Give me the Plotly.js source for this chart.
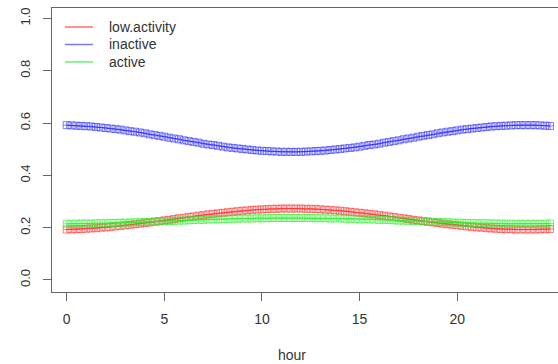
<!DOCTYPE html>
<html>
<head>
<meta charset="utf-8">
<script src="https://cdn.plot.ly/plotly-3.0.1.min.js"></script>
<style>html,body{margin:0;padding:0;background:#fff;overflow:hidden}#chart{width:558px;height:364px}</style>
</head>
<body>
<div id="chart"></div>
<script>
const hours = [0,0.25,0.5,0.75,1,1.25,1.5,1.75,2,2.25,2.5,2.75,3,3.25,3.5,3.75,4,4.25,4.5,4.75,5,5.25,5.5,5.75,6,6.25,6.5,6.75,7,7.25,7.5,7.75,8,8.25,8.5,8.75,9,9.25,9.5,9.75,10,10.25,10.5,10.75,11,11.25,11.5,11.75,12,12.25,12.5,12.75,13,13.25,13.5,13.75,14,14.25,14.5,14.75,15,15.25,15.5,15.75,16,16.25,16.5,16.75,17,17.25,17.5,17.75,18,18.25,18.5,18.75,19,19.25,19.5,19.75,20,20.25,20.5,20.75,21,21.25,21.5,21.75,22,22.25,22.5,22.75,23,23.25,23.5,23.75,24,24.25,24.5,24.75];
const lowActivity = [0.193,0.194,0.194,0.195,0.196,0.197,0.198,0.200,0.201,0.203,0.205,0.207,0.209,0.211,0.213,0.215,0.218,0.220,0.223,0.225,0.228,0.230,0.233,0.236,0.238,0.241,0.243,0.246,0.248,0.251,0.253,0.255,0.257,0.259,0.261,0.263,0.265,0.266,0.268,0.269,0.270,0.271,0.272,0.272,0.273,0.273,0.273,0.273,0.273,0.272,0.272,0.271,0.270,0.269,0.268,0.266,0.265,0.263,0.261,0.259,0.257,0.255,0.253,0.251,0.248,0.246,0.243,0.241,0.238,0.236,0.233,0.230,0.228,0.225,0.223,0.220,0.218,0.215,0.213,0.211,0.209,0.207,0.205,0.203,0.201,0.200,0.198,0.197,0.196,0.195,0.194,0.194,0.193,0.193,0.193,0.193,0.193,0.194,0.194,0.195];
const inactive = [0.592,0.591,0.590,0.589,0.588,0.587,0.585,0.583,0.581,0.579,0.577,0.575,0.572,0.569,0.567,0.564,0.561,0.557,0.554,0.551,0.548,0.544,0.541,0.538,0.534,0.531,0.528,0.525,0.521,0.518,0.516,0.513,0.510,0.507,0.505,0.503,0.501,0.499,0.497,0.495,0.494,0.493,0.492,0.491,0.490,0.490,0.490,0.490,0.490,0.491,0.492,0.493,0.494,0.495,0.497,0.499,0.501,0.503,0.505,0.507,0.510,0.513,0.516,0.518,0.521,0.525,0.528,0.531,0.534,0.538,0.541,0.544,0.548,0.551,0.554,0.557,0.561,0.564,0.567,0.569,0.572,0.575,0.577,0.579,0.581,0.583,0.585,0.587,0.588,0.589,0.590,0.591,0.592,0.592,0.592,0.592,0.592,0.591,0.590,0.589];
const active = [0.215,0.215,0.215,0.216,0.216,0.216,0.217,0.217,0.217,0.218,0.218,0.219,0.219,0.220,0.221,0.221,0.222,0.222,0.223,0.224,0.225,0.225,0.226,0.227,0.227,0.228,0.229,0.230,0.230,0.231,0.232,0.232,0.233,0.233,0.234,0.234,0.235,0.235,0.235,0.236,0.236,0.236,0.237,0.237,0.237,0.237,0.237,0.237,0.237,0.237,0.237,0.236,0.236,0.236,0.235,0.235,0.235,0.234,0.234,0.233,0.233,0.232,0.232,0.231,0.230,0.230,0.229,0.228,0.227,0.227,0.226,0.225,0.225,0.224,0.223,0.222,0.222,0.221,0.221,0.220,0.219,0.219,0.218,0.218,0.217,0.217,0.217,0.216,0.216,0.216,0.215,0.215,0.215,0.215,0.215,0.215,0.215,0.215,0.215,0.216];
const seriesNames = ["low.activity","inactive","active"];
const seriesColors = ["rgb(255,40,40)","rgb(40,40,255)","rgb(40,240,40)"];
const legendColors = ["rgb(255,110,110)","rgb(120,120,255)","rgb(110,240,110)"];
const xTicks = [0,5,10,15,20];
const yTicks = [0,0.2,0.4,0.6,0.8,1.0];
const yTickText = ["0.0","0.2","0.4","0.6","0.8","1.0"];

const seriesValues = [lowActivity, inactive, active];
const traces = seriesValues.map((vals, i) => ({
  x: hours, y: vals, type: "scatter", mode: "lines+markers",
  name: seriesNames[i], showlegend: false,
  line: {color: seriesColors[i], width: 0.7},
  marker: {symbol: "square-cross-open", size: 7, color: seriesColors[i], line: {width: 0.6, color: seriesColors[i]}}
}));

// legend drawn as lines + text inside the plot's top-left corner
const legendRowsY = [0.933, 0.8715, 0.810];
const shapes = [];
const annotations = [];
seriesNames.forEach((nm, i) => {
  shapes.push({type: "line", xref: "paper", yref: "paper", x0: 0.0257, x1: 0.081, y0: legendRowsY[i], y1: legendRowsY[i],
               line: {color: legendColors[i], width: 1.5}});
  annotations.push({text: nm, xref: "paper", yref: "paper", x: 0.1087, y: legendRowsY[i], xanchor: "left", yanchor: "middle",
                    showarrow: false, font: {size: 14, color: "#333"}});
});
annotations.push({text: "hour", xref: "paper", yref: "paper", x: 0.474, y: -0.222, xanchor: "center", yanchor: "middle",
                  showarrow: false, font: {size: 14, color: "#333"}});

const layout = {
  width: 558, height: 364,
  margin: {l: 52, r: 0, t: 8, b: 72, pad: 0},
  paper_bgcolor: "#fff", plot_bgcolor: "#fff",
  font: {family: "Liberation Sans, Arial, sans-serif", color: "#333", size: 13},
  showlegend: false,
  xaxis: {range: [-0.753, 25.16], tickmode: "array", tickvals: xTicks, ticks: "outside", ticklen: 8, tickwidth: 1,
          tickcolor: "#666", showline: true, mirror: true, linecolor: "#666", linewidth: 1, showgrid: false, zeroline: false,
          tickfont: {size: 14, color: "#333"}, ticklabelstandoff: 6},
  yaxis: {range: [-0.046, 1.040], tickmode: "array", tickvals: yTicks, ticktext: yTickText, ticks: "outside", ticklen: 8, tickwidth: 1,
          tickcolor: "#666", showline: true, mirror: false, linecolor: "#666", linewidth: 1, showgrid: false, zeroline: false,
          tickangle: -90, tickfont: {size: 13, color: "#333"}, ticklabelstandoff: 8},
  shapes: shapes,
  annotations: annotations
};
Plotly.newPlot("chart", traces, layout, {staticPlot: true, displayModeBar: false});
</script>
</body>
</html>
